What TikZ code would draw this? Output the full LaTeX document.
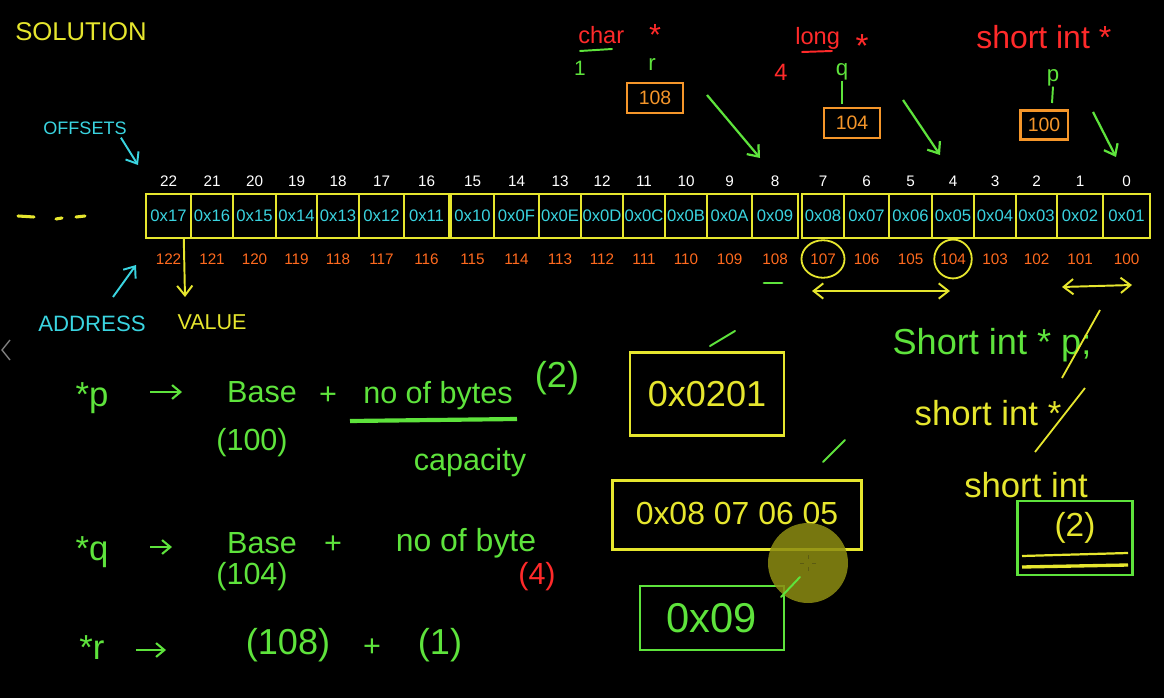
\documentclass[tikz,border=0pt]{standalone}
\usepackage{fontspec}
\setmainfont{Liberation Sans}
\usetikzlibrary{arrows.meta,shapes.geometric}
\definecolor{yel}{HTML}{E6E62E}
\definecolor{cya}{HTML}{3AD4E0}
\definecolor{grn}{HTML}{5EE33C}
\definecolor{rd}{HTML}{FF2A2A}
\definecolor{org}{HTML}{FF6A1E}
\definecolor{boxorg}{HTML}{F5962A}
\definecolor{hl}{HTML}{8C8C12}
\tikzset{
  fs/.style={font=\fontsize{#1}{#1}\selectfont},
  cell/.style={draw=yel, line width=1pt, minimum height=31.7pt, inner sep=0pt, text=cya, fs=12},
  offl/.style={text=white, fs=11, inner sep=0pt},
  addrl/.style={text=org, fs=11, inner sep=0pt},
  gtxt/.style={text=grn, fs=20, inner sep=0pt},
  ytxt/.style={text=yel, fs=20, inner sep=0pt},
  rtxt/.style={text=rd, fs=17, inner sep=0pt},
  ptrbox/.style={draw=boxorg, line width=1.6pt, text=boxorg, fs=14, inner sep=0pt},
  garr/.style={draw=grn, line width=1.6pt, -{Straight Barb[length=7pt,width=11pt]}},
  gto/.style={draw=grn, line width=1.5pt, -{Straight Barb[length=6pt,width=10pt]}},
  yarr/.style={draw=yel, line width=1.4pt, -{Straight Barb[length=7pt,width=11pt]}},
  carr/.style={draw=cya, line width=1.4pt, -{Straight Barb[length=7pt,width=11pt]}},
  ydarr/.style={draw=yel, line width=1.4pt, {Straight Barb[length=7pt,width=11pt]}-{Straight Barb[length=7pt,width=11pt]}},
}
\begin{document}
\begin{tikzpicture}[x=0.72pt,y=-0.72pt]
\fill[black] (0,0) rectangle (1164,698);
\useasboundingbox (0,0) rectangle (1164,698);

% title
\node[text=yel, fs=18.5, inner sep=0pt, anchor=west] (sol) at (15,32) {SOLUTION};

% memory cells
\foreach \l/\r/\o/\v/\a in {146/191/22/0x17/122, 191/233/21/0x16/121, 233/276/20/0x15/120, 276/317/19/0x14/119, 317/359/18/0x13/118, 359/404/17/0x12/117, 404/449/16/0x11/116, 451/494/15/0x10/115, 494/539/14/0x0F/114, 539/581/13/0x0E/113, 581/623/12/0x0D/112, 623/665/11/0x0C/111, 665/707/10/0x0B/110, 707/752/9/0x0A/109, 752/798/8/0x09/108, 802/844/7/0x08/107, 844/889/6/0x07/106, 889/932/5/0x06/105, 932/974/4/0x05/104, 974/1016/3/0x04/103, 1016/1057/2/0x03/102, 1057/1103/1/0x02/101, 1103/1150/0/0x01/100}{
  \pgfmathsetmacro\w{(\r-\l)*0.72}
  \node[cell, minimum width=\w pt] (c\o) at ({(\l+\r)/2},216) {\v};
  \node[offl] (o\o) at ({(\l+\r)/2},181) {\o};
  \node[addrl] (a\o) at ({(\l+\r)/2},259) {\a};
}

% left labels
\node[text=cya, fs=13, inner sep=0pt] (offs) at (85,128) {OFFSETS};
\coordinate (offsE) at (138,165);
\draw[carr] ([shift={(-6,3)}]offs.south east) -- (offsE);
\node[text=cya, fs=16, inner sep=0pt] (addr) at (92,324) {ADDRESS};
\coordinate (addrE) at (136,265);
\draw[carr] (113,297) -- (addrE);
\node[text=yel, fs=15.5, inner sep=0pt] (val) at (212,322) {VALUE};
\coordinate (valE) at (185,297);
\draw[yarr] ([xshift=11]c22.south) -- (valE);
\draw[yel, line width=2.2pt, line cap=round] (18,216) -- (34,217) (56,219) -- (62,218) (76,217) -- (85,216);

% circles and spans
\node[draw=yel, line width=1.3pt, ellipse, minimum width=31pt, minimum height=27pt, inner sep=0pt] (cir107) at (a7) {};
\node[draw=yel, line width=1.3pt, ellipse, minimum width=27pt, minimum height=28pt, inner sep=0pt] (cir104) at (a4) {};
\coordinate (s1) at (812,291); \coordinate (s2) at (950,291);
\draw[ydarr] (s1) -- (s2);
\coordinate (s3) at (1062,287); \coordinate (s4) at (1132,285);
\draw[ydarr] (s3) -- (s4);
\draw[grn, line width=2pt, line cap=round] (764,283) -- (782,283);

% pointer r (char *)
\node[rtxt, anchor=west] (tchar) at (578,35) {char};
\node[rtxt, fs=22] (st1) at (655,35) {*};
\draw[grn, line width=1.4pt, line cap=round] (580,51) -- (612,49);
\node[text=grn, fs=15, inner sep=0pt] (one) at (580,68) {1};
\node[text=grn, fs=16, inner sep=0pt] (rr) at (652,65) {r};
\node[ptrbox, minimum width=40pt, minimum height=22pt] (b108) at (655,98) {108};
\coordinate (r1s) at (707,95); \coordinate (r1e) at (760,158);
\draw[garr] (r1s) -- (r1e);

% pointer q (long *)
\node[rtxt, anchor=west] (tlong) at (795,38) {long};
\node[rtxt, fs=24] (st2) at (862,46) {*};
\draw[rd, line width=1.4pt, line cap=round] (802,52) -- (832,51);
\node[rtxt] (four) at (781,72) {4};
\node[text=grn, fs=16, inner sep=0pt] (qq) at (842,72) {q};
\draw[grn, line width=1.4pt] (qq.south) -- (842,104);
\node[ptrbox, minimum width=40pt, minimum height=22pt] (b104) at (852,123) {104};
\coordinate (q1s) at (903,100); \coordinate (q1e) at (940,155);
\draw[garr] (q1s) -- (q1e);

% pointer p (short int *)
\node[rtxt, fs=23, anchor=west] (tshort) at (976,37) {short int *};
\node[text=grn, fs=16, inner sep=0pt] (pp) at (1053,78) {p};
\draw[grn, line width=1.4pt] (pp.south) -- (1052,103);
\node[ptrbox, minimum width=34pt, minimum height=21pt] (b100) at (1044,125) {100};
\coordinate (p1s) at (1093,112); \coordinate (p1e) at (1116,157);
\draw[garr] (p1s) -- (p1e);

% formulas
\node[gtxt, fs=25] (sp) at (92,398) {*p};
\coordinate (ar1s) at (150,392); \coordinate (ar1e) at (182,392);
\draw[gto] (ar1s) -- (ar1e);
\node[gtxt, fs=22] (base1) at (262,392) {Base};
\node[gtxt, fs=22] (pl1) at (328,396) {+};
\node[gtxt, fs=22] (nb1) at (438,396) {no of bytes};
\draw[grn, line width=3pt] (350,421) -- (517,419);
\node[gtxt, fs=26] (two1) at (557,378) {(2)};
\node[gtxt, fs=22] (h100) at (252,443) {(100)};
\node[gtxt, fs=22] (cap) at (470,463) {capacity};

\node[gtxt, fs=25] (sq) at (92,552) {*q};
\coordinate (ar2s) at (150,547); \coordinate (ar2e) at (172,547);
\draw[gto] (ar2s) -- (ar2e);
\node[gtxt, fs=22] (base2) at (262,543) {Base};
\node[gtxt, fs=22] (pl2) at (333,545) {+};
\node[gtxt, fs=23] (nb2) at (466,543) {no of byte};
\node[gtxt, fs=22] (h104) at (252,577) {(104)};
\node[text=rd, fs=22, inner sep=0pt] (four2) at (537,577) {(4)};

\node[gtxt, fs=25] (sr) at (92,648) {*r};
\coordinate (ar3s) at (136,650); \coordinate (ar3e) at (166,650);
\draw[gto] (ar3s) -- (ar3e);
\node[gtxt, fs=26] (h108) at (288,645) {(108)};
\node[gtxt, fs=22] (pl3) at (372,648) {+};
\node[gtxt, fs=26] (h1) at (440,645) {(1)};

% middle result boxes
\node[draw=yel, line width=1.8pt, text=yel, fs=26, minimum width=111pt, minimum height=60pt, inner sep=0pt] (r201) at (707,394) {0x0201};
\draw[grn, line width=1.4pt, line cap=round] (710,346) -- (735,331);
\node[draw=yel, line width=1.8pt, text=yel, fs=23, minimum width=179pt, minimum height=50pt, inner sep=0pt] (r8765) at (737,515) {\raisebox{3pt}{0x08 07 06 05}};
\draw[grn, line width=1.4pt, line cap=round] (823,462) -- (845,440);
\node[draw=grn, line width=1.8pt, text=grn, fs=30, minimum width=104pt, minimum height=46pt, inner sep=0pt] (r09) at (712,618) {0x09};
\fill[hl, opacity=0.85] (808,563) circle (40);
\draw[black!60!yel, line width=0.6pt] (800,563) -- (804,563) (812,563) -- (816,563) (808,555) -- (808,559) (808,567) -- (808,571);
\draw[grn, line width=1.4pt, line cap=round] (781,597) -- (800,577);

% right side
\node[gtxt, fs=26] (sip) at (992,345) {Short int * p;};
\draw[yel, line width=1.3pt] (1062,378) -- (1100,310);
\node[ytxt, fs=25] (si2) at (988,413) {short int *};
\draw[yel, line width=1.3pt] (1035,452) -- (1085,388);
\node[ytxt, fs=25] (si3) at (1026,485) {short int};
\node[draw=grn, line width=1.8pt, minimum width=83pt, minimum height=53pt, inner sep=0pt] (r2) at (1075,538) {};
\node[ytxt, fs=24] (two2) at (1075,528) {(2)};
\draw[yel, line width=1.6pt] (1022,556) -- (1128,553);
\draw[yel, line width=2.4pt] (1022,567) -- (1128,565);

% UI chevron
\draw[gray, line width=1pt] (10,340) -- (2,350) -- (10,360);
\end{tikzpicture}
\end{document}
